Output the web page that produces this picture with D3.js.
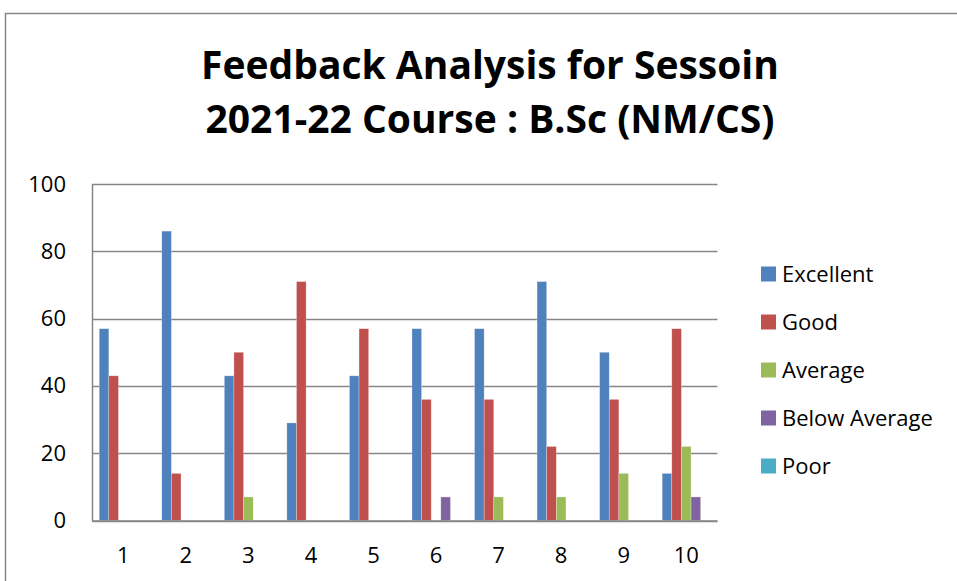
<!DOCTYPE html>
<html>
<head>
<meta charset="utf-8">
<script src="https://cdn.jsdelivr.net/npm/d3@7"></script>
<style>
  body { margin: 0; background: #fff; }
  svg { display: block; font-family: "Open Sans", Lato, sans-serif; }
</style>
</head>
<body>
<svg id="chart" width="957" height="581"></svg>
<script>
// data
var sessions = ["1", "2", "3", "4", "5", "6", "7", "8", "9", "10"];
var seriesNames = ["Excellent", "Good", "Average", "Below Average", "Poor"];
var excellent = [57, 86, 43, 29, 43, 57, 57, 71, 50, 14];
var good = [43, 14, 50, 71, 57, 36, 36, 22, 36, 57];
var average = [0, 0, 7, 0, 0, 0, 7, 7, 14, 22];
var belowAverage = [0, 0, 0, 0, 0, 7, 0, 0, 0, 7];
var poor = [0, 0, 0, 0, 0, 0, 0, 0, 0, 0];
var yTicks = [0, 20, 40, 60, 80, 100];
var titleLines = ["Feedback Analysis for Sessoin", "2021-22 Course : B.Sc (NM/CS)"];

var colors = ["#4F81BD", "#C0504D", "#9BBB59", "#8064A2", "#4BACC6"];
var allSeries = [excellent, good, average, belowAverage, poor];

var svg = d3.select("#chart");

// outer frame of the chart
svg.append("rect")
  .attr("x", 5.5).attr("y", 13.5)
  .attr("width", 960).attr("height", 600)
  .attr("fill", "none")
  .attr("stroke", "#868686")
  .attr("stroke-width", 1.5);

var margin = {top: 184, left: 92},
    width = 717.5 - 92,
    height = 520.5 - 184;

var group = svg.append("g")
  .attr("transform", "translate(" + margin.left + "," + margin.top + ")");

var x = d3.scaleBand()
  .domain(sessions)
  .range([0, width]);

var x1 = d3.scaleBand()
  .domain(seriesNames)
  .range([0, x.bandwidth()])
  .paddingInner(0)
  .paddingOuter(0.75);

var y = d3.scaleLinear()
  .domain([0, 100])
  .range([height, 0]);

// gridlines
group.append("g")
  .selectAll("line")
  .data(yTicks)
  .enter().append("line")
  .attr("x1", 0).attr("x2", width)
  .attr("y1", d => Math.round(y(d)) + 0.5)
  .attr("y2", d => Math.round(y(d)) + 0.5)
  .attr("stroke", "#868686")
  .attr("stroke-width", 1.5);

// bars
var rows = sessions.map(function(s, i) {
  return seriesNames.map(function(n, k) {
    return {session: s, name: n, value: allSeries[k][i], color: colors[k]};
  });
});

group.append("g")
  .selectAll("g")
  .data(rows)
  .enter().append("g")
  .attr("transform", d => "translate(" + x(d[0].session) + ",0)")
  .selectAll("rect")
  .data(d => d.filter(v => v.value > 0))
  .enter().append("rect")
  .attr("x", d => x1(d.name))
  .attr("y", d => y(d.value))
  .attr("width", x1.bandwidth())
  .attr("height", d => height - y(d.value))
  .attr("fill", d => d.color)
  .attr("stroke", "rgba(255,255,255,0.45)")
  .attr("stroke-width", 0.6);

// axes lines
group.append("line")
  .attr("x1", 0.5).attr("x2", 0.5)
  .attr("y1", 0).attr("y2", height + 0.5)
  .attr("stroke", "#868686").attr("stroke-width", 1.5);

group.append("line")
  .attr("x1", 0).attr("x2", width)
  .attr("y1", height + 0.5).attr("y2", height + 0.5)
  .attr("stroke", "#868686").attr("stroke-width", 1.5);

var yAxis = d3.axisLeft(y)
  .tickValues(yTicks)
  .tickSize(0)
  .tickPadding(26);

var yg = group.append("g").call(yAxis);
yg.select(".domain").remove();
yg.selectAll("text")
  .attr("font-size", 22)
  .attr("font-family", "'Open Sans', Lato, sans-serif")
  .attr("fill", "#000");

var xAxis = d3.axisBottom(x).tickSize(0).tickPadding(27);
var xg = group.append("g")
  .attr("transform", "translate(0," + height + ")")
  .call(xAxis);
xg.select(".domain").remove();
xg.selectAll("text")
  .attr("font-size", 22)
  .attr("font-family", "'Open Sans', Lato, sans-serif")
  .attr("fill", "#000");

// title
svg.append("g")
  .selectAll("text")
  .data(titleLines)
  .enter().append("text")
  .attr("x", 490)
  .attr("y", (d, i) => 79 + i * 54)
  .attr("text-anchor", "middle")
  .attr("font-size", 39)
  .attr("font-weight", "bold")
  .attr("fill", "#000")
  .text(d => d);

// legend
var legend = svg.append("g")
  .attr("transform", "translate(761,274)");

legend.selectAll("g")
  .data(seriesNames)
  .enter().append("g")
  .each(function(d, i) {
    var g = d3.select(this);
    g.append("rect")
      .attr("x", 0).attr("y", i * 48 - 7.5)
      .attr("width", 15).attr("height", 15)
      .attr("fill", colors[i]);
    g.append("text")
      .attr("x", 21).attr("y", i * 48 + 8)
      .attr("font-size", 22)
      .attr("fill", "#000")
      .text(d);
  });
</script>
</body>
</html>
